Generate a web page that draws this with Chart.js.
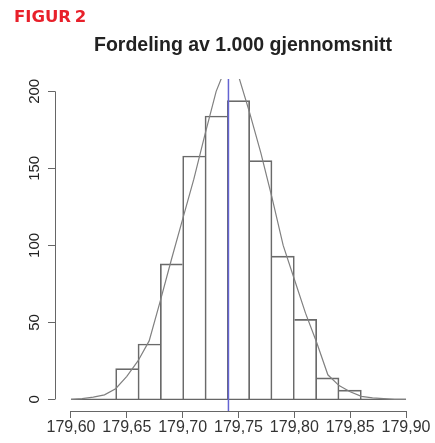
<!DOCTYPE html>
<html>
<head>
<meta charset="utf-8">
<script src="https://cdn.jsdelivr.net/npm/chart.js@4/dist/chart.umd.min.js"></script>
<style>
  html, body { margin: 0; padding: 0; background: #fff; }
  #wrap { position: relative; width: 435px; height: 443px; }
  #fig { position: absolute; left: 14px; top: 7px; color: #e8202a; font: bold 16.5px "DejaVu Sans", sans-serif; word-spacing: -2px; }
  #title { position: absolute; left: 0; width: 486px; top: 33px; text-align: center; color: #222; font: bold 19.5px "Liberation Sans", Arial, sans-serif; }
  canvas { position: absolute; left: 0; top: 0; }
</style>
</head>
<body>
<div id="wrap">
  <canvas id="myChart" width="435" height="443"></canvas>
  <div id="fig">FIGUR 2</div>
  <div id="title">Fordeling av 1.000 gjennomsnitt</div>
</div>
<script>
// histogram bins (left edges, width 0.02) and counts
const binStarts = [179.60, 179.62, 179.64, 179.66, 179.68, 179.70, 179.72, 179.74, 179.76, 179.78, 179.80, 179.82, 179.84, 179.86, 179.88];
const binCounts = [0, 0, 20, 36, 88, 158, 184, 194, 155, 93, 52, 14, 6, 0, 0];
const binWidth = 0.02;

// fitted curve
const curveX = [179.60, 179.61, 179.62, 179.63, 179.64, 179.65, 179.66, 179.67, 179.68, 179.69, 179.70,
                179.71, 179.72, 179.73, 179.74, 179.75, 179.76, 179.77, 179.78, 179.79, 179.80,
                179.81, 179.82, 179.83, 179.84, 179.85, 179.86, 179.87, 179.88, 179.89, 179.90];
const curveY = [0, 0.5, 1.5, 3, 7, 15, 25, 38, 64, 91, 117,
                143, 172, 200, 218, 210, 186, 160, 131, 100, 78,
                56, 37, 16, 9, 5, 2, 1, 0.5, 0, 0];

const meanValue = 179.741;
const xTicks = [179.60, 179.65, 179.70, 179.75, 179.80, 179.85, 179.90];
const yTicks = [0, 50, 100, 150, 200];

const axisColor = "#666";

// R-style axes: lines only between first and last tick, rotated y labels
const rAxes = {
  id: "rAxes",
  afterDraw(chart) {
    const ctx = chart.ctx;
    const x = chart.scales.x;
    const y = chart.scales.y;
    const area = chart.chartArea;
    ctx.save();
    ctx.strokeStyle = axisColor;
    ctx.lineWidth = 1;
    ctx.beginPath();
    ctx.moveTo(x.getPixelForValue(xTicks[0]), area.bottom + 0.5);
    ctx.lineTo(x.getPixelForValue(xTicks[xTicks.length - 1]), area.bottom + 0.5);
    ctx.moveTo(area.left + 0.5, y.getPixelForValue(yTicks[0]));
    ctx.lineTo(area.left + 0.5, y.getPixelForValue(yTicks[yTicks.length - 1]));
    ctx.stroke();

    ctx.fillStyle = "#222";
    ctx.font = '15px "Liberation Sans", Arial, sans-serif';
    ctx.textAlign = "center";
    ctx.textBaseline = "middle";
    yTicks.forEach(v => {
      ctx.save();
      ctx.translate(35, y.getPixelForValue(v));
      ctx.rotate(-Math.PI / 2);
      ctx.fillText(String(v), 0, 0);
      ctx.restore();
    });
    ctx.restore();
  }
};

// shared bar edges: only the taller neighbour draws it, so each edge is a single line
function edgeWidths(ctx) {
  const i = ctx.dataIndex;
  const here = binCounts[i];
  const prev = binCounts[i - 1] || 0;
  const next = binCounts[i + 1] || 0;
  return { top: 1, bottom: 0, left: here > prev ? 1 : 0, right: here >= next ? 1 : 0 };
}

function initChart(target) {
  const bars = binStarts.map((b, i) => ({ x: b + binWidth / 2, y: binCounts[i] }));
  const curve = curveX.map((v, i) => ({ x: v, y: curveY[i] }));

  const data = {
    datasets: [
      {
        type: "line",
        label: "mean",
        data: [{ x: meanValue, y: -8 }, { x: meanValue, y: 210 }],
        borderColor: "#6464d2",
        borderWidth: 1.5,
        pointRadius: 0,
        order: 0
      },
      {
        type: "line",
        label: "curve",
        data: curve,
        borderColor: "#808080",
        borderWidth: 1.2,
        pointRadius: 0,
        tension: 0,
        order: 1
      },
      {
        type: "line",
        label: "base",
        data: [{ x: xTicks[0], y: 0 }, { x: xTicks[xTicks.length - 1], y: 0 }],
        borderColor: "#666",
        borderWidth: 1.2,
        pointRadius: 0,
        order: 2
      },
      {
        type: "bar",
        label: "count",
        data: bars,
        backgroundColor: "rgba(255,255,255,0)",
        borderColor: "#6a6a6a",
        borderWidth: edgeWidths,
        borderSkipped: false,
        barPercentage: 1,
        categoryPercentage: 1,
        order: 3
      }
    ]
  };

  const config = {
    type: "bar",
    data: data,
    options: {
      responsive: false,
      animation: false,
      layout: { padding: { top: 79, right: 13, left: 0, bottom: 0 } },
      plugins: { legend: { display: false }, tooltip: { enabled: false } },
      scales: {
        x: {
          type: "linear",
          offset: false,
          min: 179.5857,
          max: 179.9143,
          afterBuildTicks: s => { s.ticks = xTicks.map(v => ({ value: v })); },
          afterFit: s => { s.height = 32; },
          grid: { offset: false, drawOnChartArea: false, tickLength: 7, color: axisColor },
          border: { display: false },
          ticks: {
            padding: 0,
            color: "#333",
            font: { family: '"Liberation Sans", Arial, sans-serif', size: 16 },
            maxRotation: 0,
            autoSkip: false,
            callback: v => v.toFixed(2).replace(".", ",")
          }
        },
        y: {
          min: -7.5,
          max: 208,
          afterBuildTicks: s => { s.ticks = yTicks.map(v => ({ value: v })); },
          afterFit: s => { s.width = 55; },
          grid: { drawOnChartArea: false, tickLength: 7, color: axisColor },
          border: { display: false },
          ticks: { display: false }
        }
      }
    },
    plugins: [rAxes]
  };

  return new Chart(target, config);
}

document.addEventListener("DOMContentLoaded", () => initChart(document.querySelector("#myChart")));
</script>
</body>
</html>
